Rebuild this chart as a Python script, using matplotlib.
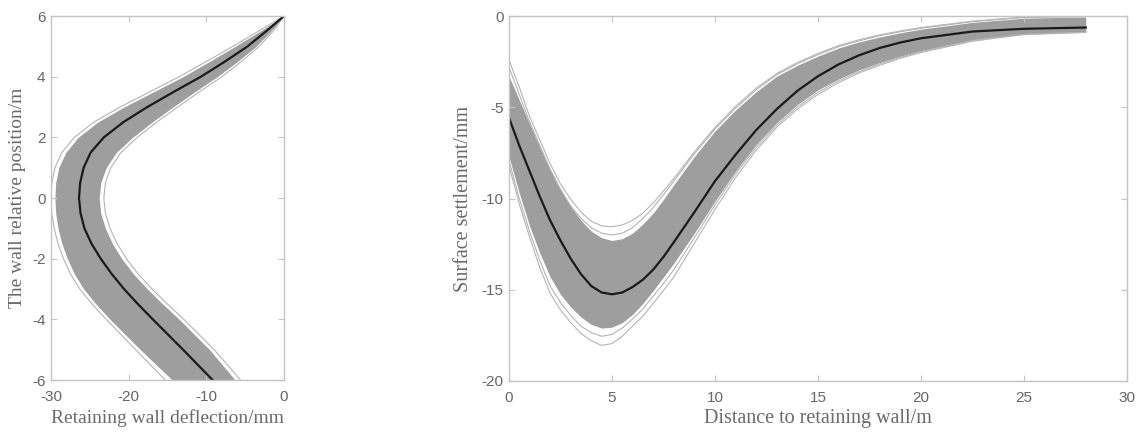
import numpy as np
import matplotlib
matplotlib.use("Agg")
import matplotlib.pyplot as plt

plt.rcParams["axes.unicode_minus"] = False

# ---- left panel: wall deflection (x, mm) vs wall relative position (y, m)
wall_pos = [6, 5.5, 5, 4.5, 4, 3.5, 3, 2.5, 2, 1.5, 1, 0.5, 0, -0.5, -1, -1.5, -2, -2.5,
            -3, -3.5, -4, -5, -6]
defl_mean = [0, -2.3, -4.7, -7.6, -10.7, -14.2, -17.6, -20.7, -23.2, -24.9, -25.8, -26.25,
             -26.4, -26.2, -25.7, -24.8, -23.6, -22.2, -20.6, -18.8, -16.9, -13.0, -9.2]
defl_band_lo = [0, -3.1, -6.3, -9.6, -13.0, -16.8, -20.6, -24.0, -26.5, -28.1, -29.0, -29.4,
                -29.5, -29.4, -29.1, -28.6, -27.9, -27.0, -25.8, -24.2, -22.4, -18.5, -14.4]
defl_band_hi = [0, -1.7, -3.6, -6.0, -8.6, -11.5, -14.3, -17.0, -19.5, -21.6, -22.9, -23.6,
                -23.8, -23.6, -23.0, -22.1, -20.9, -19.4, -17.6, -15.6, -13.5, -9.6, -6.3]
defl_outer_lo = [0, -3.3, -6.6, -10.0, -13.5, -17.3, -21.1, -24.5, -27.0, -28.6, -29.5, -29.9,
                 -30.0, -29.9, -29.6, -29.1, -28.4, -27.5, -26.3, -24.7, -22.9, -19.1, -15.3]
defl_outer_hi = [0, -1.4, -3.2, -5.5, -8.0, -10.9, -13.7, -16.4, -18.9, -21.0, -22.3, -23.0,
                 -23.2, -23.0, -22.4, -21.5, -20.3, -18.8, -17.0, -15.0, -12.9, -9.0, -5.6]

# ---- right panel: surface settlement (mm) vs distance to wall (m)
dist = [0, 0.5, 1, 1.5, 2, 2.5, 3, 3.5, 4, 4.5, 5, 5.5, 6, 6.5, 7, 7.5, 8, 9, 10, 11,
        12, 13, 14, 15, 16, 17, 18, 19, 20, 22.5, 25, 28]
settle_mean = [-5.57, -7.1, -8.5, -9.9, -11.2, -12.3, -13.3, -14.15, -14.8, -15.15, -15.25,
               -15.15, -14.85, -14.45, -13.9, -13.2, -12.4, -10.75, -9.05, -7.6,
               -6.25, -5.1, -4.1, -3.3, -2.65, -2.15, -1.75, -1.45, -1.22, -0.85, -0.7, -0.63]
settle_band_hi = [-3.3, -4.6, -5.9, -7.2, -8.4, -9.5, -10.45, -11.2, -11.8, -12.15, -12.3,
                  -12.2, -11.9, -11.4, -10.8, -10.05, -9.25, -7.7, -6.3, -5.15,
                  -4.15, -3.3, -2.7, -2.2, -1.75, -1.42, -1.15, -0.92, -0.72, -0.35, -0.12, -0.05]
settle_band_lo = [-7.7, -9.7, -11.5, -13.0, -14.3, -15.25, -15.95, -16.5, -16.9, -17.1, -17.05,
                  -16.8, -16.35, -15.75, -15.05, -14.3, -13.55, -11.9, -10.15, -8.5,
                  -7.05, -5.85, -4.85, -4.05, -3.45, -2.95, -2.55, -2.2, -1.9, -1.3, -0.98, -0.88]
settle_outer_hi = [-2.4, -3.9, -5.5, -6.8, -8.1, -9.2, -10.05, -10.75, -11.25, -11.5, -11.55,
                   -11.45, -11.2, -10.8, -10.25, -9.6, -8.9, -7.45, -6.1, -4.95,
                   -3.95, -3.15, -2.55, -2.05, -1.62, -1.3, -1.03, -0.82, -0.63, -0.28, -0.06, -0.02]
settle_outer_hi2 = [-2.8, -4.3, -5.8, -7.1, -8.4, -9.5, -10.4, -11.1, -11.6, -11.9, -12.0,
                    -11.9, -11.6, -11.1, -10.5, -9.8, -9.05, -7.55, -6.2, -5.05,
                    -4.05, -3.22, -2.62, -2.12, -1.68, -1.36, -1.08, -0.86, -0.67, -0.31, -0.08, -0.03]
settle_outer_lo = [-8.2, -10.3, -12.1, -13.8, -15.2, -16.1, -16.8, -17.4, -17.8, -18.05, -17.95,
                   -17.55, -17.0, -16.45, -15.75, -15.05, -14.3, -12.45, -10.6, -8.85,
                   -7.35, -6.1, -5.1, -4.3, -3.65, -3.12, -2.7, -2.32, -2.0, -1.38, -1.02, -0.9]
settle_outer_lo2 = [-7.9, -10.0, -11.8, -13.4, -14.8, -15.7, -16.4, -17.0, -17.35, -17.55, -17.45,
                    -17.1, -16.6, -16.05, -15.35, -14.65, -13.9, -12.15, -10.35, -8.65,
                    -7.2, -5.98, -4.98, -4.18, -3.55, -3.04, -2.62, -2.26, -1.95, -1.34, -1.0, -0.89]

band_c = "#9e9e9e"
line_c = "#b4b4b4"
spine_c = "#c4c4c4"
tick_txt = "#666666"
label_txt = "#6a6a6a"
serif = ["Liberation Serif", "DejaVu Serif"]
sans = ["Liberation Sans", "DejaVu Sans"]


def style_axes(ax):
    for s in ax.spines.values():
        s.set_color(spine_c)
        s.set_linewidth(1.0)
    ax.tick_params(direction="in", top=True, right=True, length=4, width=0.8,
                   color=spine_c, labelcolor=tick_txt, labelsize=11)
    ax.tick_params(axis="x", pad=7)
    ax.tick_params(axis="y", pad=4)
    for lab in ax.get_xticklabels() + ax.get_yticklabels():
        lab.set_family(sans)


fig = plt.figure(figsize=(11.44, 4.33), dpi=100)

# left panel
ax1 = fig.add_axes([0.0446, 0.1224, 0.2037, 0.8406])
ax1.fill_betweenx(wall_pos, defl_band_lo, defl_band_hi, color=band_c, lw=0)
ax1.plot(defl_outer_lo, wall_pos, color=line_c, lw=0.8)
ax1.plot(defl_outer_hi, wall_pos, color=line_c, lw=0.8)
ax1.plot(defl_mean, wall_pos, color="#1a1a1a", lw=1.6)
ax1.set_xlim(-30, 0)
ax1.set_ylim(-6, 6)
ax1.set_xticks([-30, -20, -10, 0])
ax1.set_yticks([-6, -4, -2, 0, 2, 4, 6])
style_axes(ax1)
ax1.set_xlabel("Retaining wall deflection/mm", family=serif, fontsize=14,
               color=label_txt, labelpad=4)
ax1.set_ylabel("The wall relative position/m", family=serif, fontsize=14,
               color=label_txt, labelpad=4)

# right panel
ax2 = fig.add_axes([0.4449, 0.1201, 0.5402, 0.8429])
ax2.fill_between(dist, settle_band_lo, settle_band_hi, color=band_c, lw=0)
for curve in [settle_outer_hi, settle_outer_hi2, settle_outer_lo, settle_outer_lo2]:
    ax2.plot(dist, curve, color=line_c, lw=0.8)
ax2.plot(dist, settle_mean, color="#1a1a1a", lw=1.6)
ax2.set_xlim(0, 30)
ax2.set_ylim(-20, 0)
ax2.set_xticks([0, 5, 10, 15, 20, 25, 30])
ax2.set_yticks([-20, -15, -10, -5, 0])
style_axes(ax2)
ax2.set_xlabel("Distance to retaining wall/m", family=serif, fontsize=14.5,
               color=label_txt, labelpad=3)
ax2.set_ylabel("Surface settlement/mm", family=serif, fontsize=14.5,
               color=label_txt, labelpad=6)

fig.savefig("out.png", dpi=100)
